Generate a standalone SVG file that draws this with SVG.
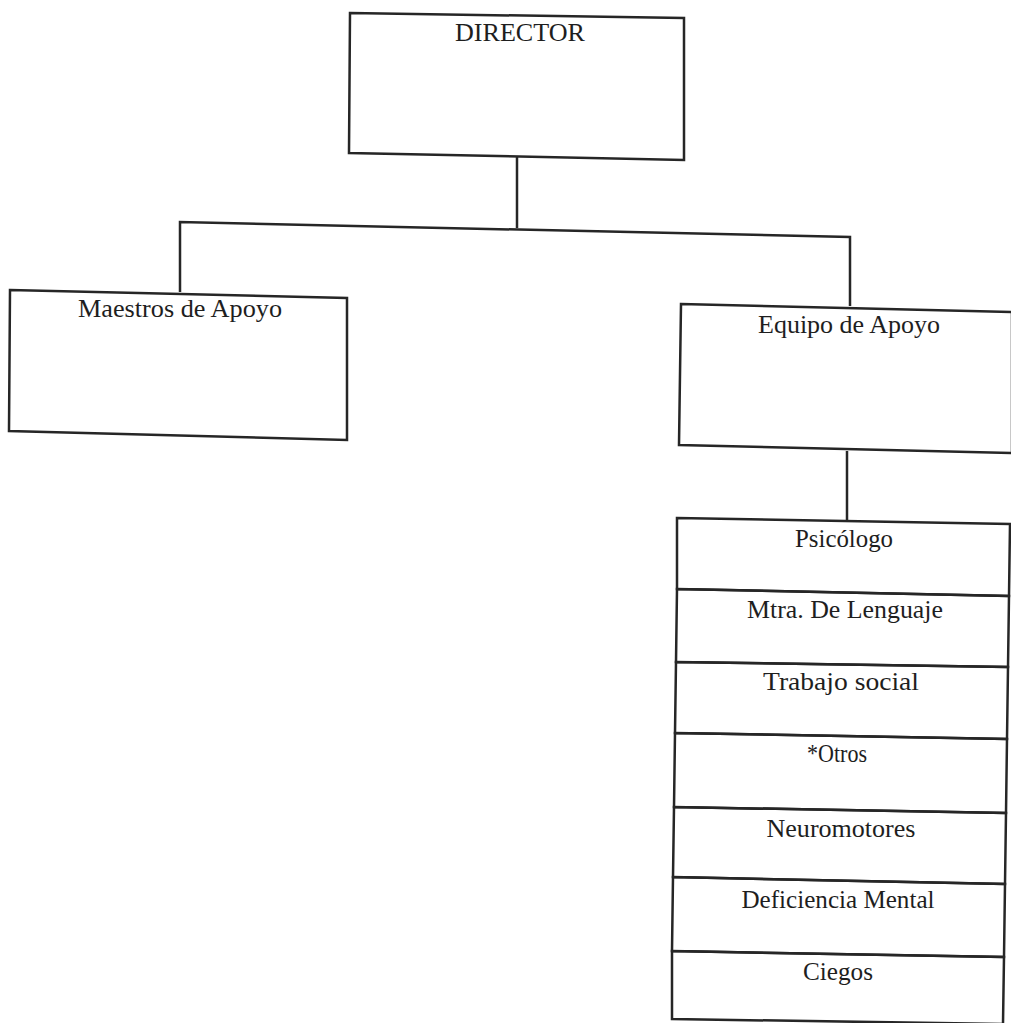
<svg xmlns="http://www.w3.org/2000/svg" width="1011" height="1023" viewBox="0 0 1011 1023">
<style>
.box{fill:none;stroke:#262626;stroke-width:2.5;stroke-linejoin:miter}
.con{fill:none;stroke:#262626;stroke-width:2.5}
.t{font-family:"Liberation Serif","Times New Roman",serif;font-size:25px;fill:#1e1e1e;text-anchor:middle}
</style>
<rect width="1011" height="1023" fill="#ffffff"/>
<g id="connectors">
<path class="con" d="M517,157 L517,228"/>
<path class="con" d="M180,292 L180,222 L850,237 L850,306"/>
<path class="con" d="M847,451 L847,520"/>
</g>
<g id="director">
<path class="box" d="M350,13 L684,18 L684,160 L349,153 Z"/>
<text class="t" x="520" y="41" textLength="130" lengthAdjust="spacingAndGlyphs">DIRECTOR</text>
</g>
<g id="maestros">
<path class="box" d="M10,290 L347,298 L347,440 L9,431 Z"/>
<text class="t" x="180" y="317" textLength="204" lengthAdjust="spacingAndGlyphs">Maestros de Apoyo</text>
</g>
<g id="equipo">
<path class="box" d="M681,304 L1012,312 L1012,453 L679,445 Z"/>
<text class="t" x="849" y="333" textLength="182" lengthAdjust="spacingAndGlyphs">Equipo de Apoyo</text>
</g>
<g id="psicologo">
<path class="box" d="M677,518 L1010,524 L1009,596 L677,589 Z"/>
<text class="t" x="844" y="547" textLength="98" lengthAdjust="spacingAndGlyphs">Psicólogo</text>
</g>
<g id="lenguaje">
<path class="box" d="M677,589 L1009,596 L1008,667 L676,662 Z"/>
<text class="t" x="845" y="618" textLength="196" lengthAdjust="spacingAndGlyphs">Mtra. De Lenguaje</text>
</g>
<g id="trabajo">
<path class="box" d="M676,662 L1008,667 L1007,739 L675,733 Z"/>
<text class="t" x="841" y="690" textLength="156" lengthAdjust="spacingAndGlyphs">Trabajo social</text>
</g>
<g id="otros">
<path class="box" d="M675,733 L1007,739 L1006,813 L674,807 Z"/>
<text class="t" x="837" y="762" textLength="60" lengthAdjust="spacingAndGlyphs">*Otros</text>
</g>
<g id="neuromotores">
<path class="box" d="M674,807 L1006,813 L1005,884 L673,877 Z"/>
<text class="t" x="841" y="837" textLength="149" lengthAdjust="spacingAndGlyphs">Neuromotores</text>
</g>
<g id="deficiencia">
<path class="box" d="M673,877 L1005,884 L1004,957 L672,951 Z"/>
<text class="t" x="838" y="908" textLength="193" lengthAdjust="spacingAndGlyphs">Deficiencia Mental</text>
</g>
<g id="ciegos">
<path class="box" d="M672,951 L1004,957 L1003,1024 L672,1019 Z"/>
<text class="t" x="838" y="980" textLength="70" lengthAdjust="spacingAndGlyphs">Ciegos</text>
</g>
</svg>
